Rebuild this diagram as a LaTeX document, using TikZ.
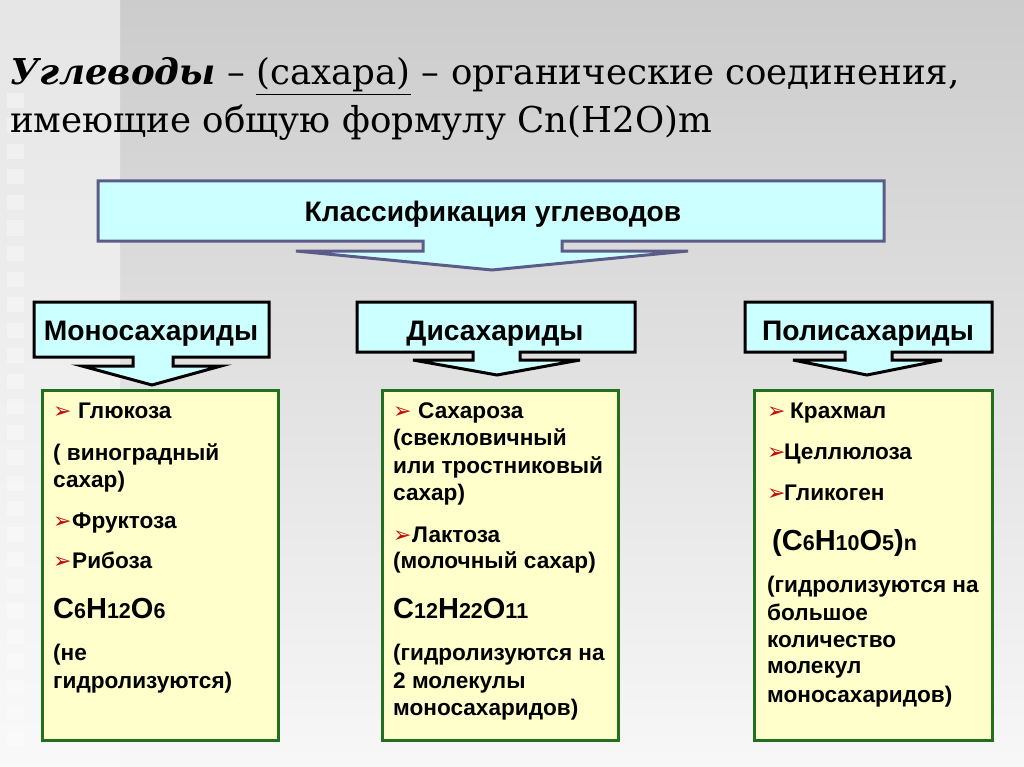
\documentclass[tikz,border=0pt]{standalone}
\usepackage{fontspec}
\setmainfont{Liberation Sans}
\newfontfamily\titlefont{DejaVu Serif}
\newfontfamily\arialf{Liberation Sans}
\newfontfamily\dingf{DejaVu Sans}
\definecolor{cyanfill}{HTML}{CCFFFF}
\definecolor{slateblue}{HTML}{5C5C8A}
\definecolor{greenline}{HTML}{22701E}
\definecolor{yellowfill}{HTML}{FFFFCC}
\definecolor{bulred}{HTML}{C00C0C}
\newcommand\fsz[1]{\fontsize{#1}{#1}\selectfont}
\newcommand\bul{{\dingf\fsz{22}\color{bulred}➢}}
\newcommand\smd[1]{{\fsz{21.5}#1}}
\tikzset{
  topbox/.style={fill=cyanfill, draw=slateblue, line width=3pt, line join=miter},
  headbox/.style={fill=cyanfill, draw=black, line width=3pt, line join=miter},
  contentbox/.style={fill=yellowfill, draw=greenline, line width=3pt},
  titletxt/.style={anchor=base west, inner sep=0pt, font=\titlefont\fsz{35.6}},
  headtxt/.style={anchor=base, inner sep=0pt, font=\arialf\bfseries\fsz{28.2}},
  txt/.style={anchor=base west, inner sep=0pt, font=\arialf\bfseries\fsz{22.6}},
  bigtxt/.style={anchor=base west, inner sep=0pt, font=\arialf\bfseries\fsz{29}},
}
\begin{document}
\begin{tikzpicture}[x=1pt,y=-1pt]
\useasboundingbox (0,0) rectangle (1024,767);
% background
\fill[top color=gray!40!white, middle color=gray!30!white, bottom color=gray!6!white] (0,0) rectangle (1024,767);
\fill[top color=gray!20!white, bottom color=gray!5!white] (0,0) rectangle (120,767);
\foreach \i in {0,...,25} \fill[white, opacity=0.35] (7,93+25.5*\i) rectangle ++(17,15);
% title
\node[titletxt] (t1) at (10,85) {{\bfseries\itshape Углеводы} – \underline{(сахара)} – органические соединения,};
\node[titletxt] (t2) at (10,133) {имеющие общую формулу Cn(H2O)m};
% top callout
\draw[topbox] (98,181) -- (884,181) -- (884,241) -- (562,241) -- (562,251) -- (688,251) -- (492,270) -- (296,251) -- (423,251) -- (423,241) -- (98,241) -- cycle;
\node[headtxt] (cls) at (493,222) {Классификация углеводов};
% header callouts
\draw[headbox] (34,302) -- (269,302) -- (269,357) -- (173,357) -- (173,366) -- (221,366) -- (152,385) -- (82,366) -- (133,366) -- (133,357) -- (34,357) -- cycle;
\node[headtxt] (hm) at (151,340) {Моносахариды};
\draw[headbox] (357,302) -- (635,302) -- (635,352) -- (520,352) -- (520,360) -- (580,360) -- (497,375) -- (413,360) -- (473,360) -- (473,352) -- (357,352) -- cycle;
\node[headtxt] (hd) at (495,340) {Дисахариды};
\draw[headbox] (745,302) -- (992,302) -- (992,352) -- (892,352) -- (892,360) -- (942,360) -- (867,375) -- (793,360) -- (845,360) -- (845,352) -- (745,352) -- cycle;
\node[headtxt] (hp) at (868,340) {Полисахариды};
% content boxes
\draw[contentbox] (42,390) rectangle (278,740);
\draw[contentbox] (382,390) rectangle (618,740);
\draw[contentbox] (754,390) rectangle (992,740);
% mono
\node[txt] (mb1) at (53,418) {\bul};
\node[txt] (m1) at (78,418) {Глюкоза};
\node[txt] (m2) at (53,460) {( виноградный};
\node[txt] (m3) at (53,487) {сахар)};
\node[txt] (mb2) at (53,528) {\bul};
\node[txt] (m4) at (72,528) {Фруктоза};
\node[txt] (mb3) at (53,568) {\bul};
\node[txt] (m5) at (72,568) {Рибоза};
\node[bigtxt] (m6) at (53,618) {C\smd{6}H\smd{12}O\smd{6}};
\node[txt] (m7) at (53,660) {(не};
\node[txt] (m8) at (53,688) {гидролизуются)};
% di
\node[txt] (db1) at (393,418) {\bul};
\node[txt] (d1) at (418,418) {Сахароза};
\node[txt] (d2) at (393,445) {(свекловичный};
\node[txt] (d3) at (393,473) {или тростниковый};
\node[txt] (d4) at (393,500) {сахар)};
\node[txt] (db2) at (393,542) {\bul};
\node[txt] (d5) at (412,542) {Лактоза};
\node[txt] (d6) at (393,568) {(молочный сахар)};
\node[bigtxt] (d7) at (393,618) {C\smd{12}H\smd{22}O\smd{11}};
\node[txt] (d8) at (393,660) {(гидролизуются на};
\node[txt] (d9) at (393,688) {2 молекулы};
\node[txt] (d10) at (393,715) {моносахаридов)};
% poly
\node[txt] (pb1) at (767,418) {\bul};
\node[txt] (p1) at (790,418) {Крахмал};
\node[txt] (pb2) at (767,459) {\bul};
\node[txt] (p2) at (784,459) {Целлюлоза};
\node[txt] (pb3) at (767,500) {\bul};
\node[txt] (p3) at (784,500) {Гликоген};
\node[bigtxt] (p4) at (772,550) {(C\smd{6}H\smd{10}O\smd{5})\smd{n}};
\node[txt] (p5) at (767,592) {(гидролизуются на};
\node[txt] (p6) at (767,620) {большое};
\node[txt] (p7) at (767,647) {количество};
\node[txt] (p8) at (767,673) {молекул};
\node[txt] (p9) at (767,702) {моносахаридов)};
\end{tikzpicture}
\end{document}
